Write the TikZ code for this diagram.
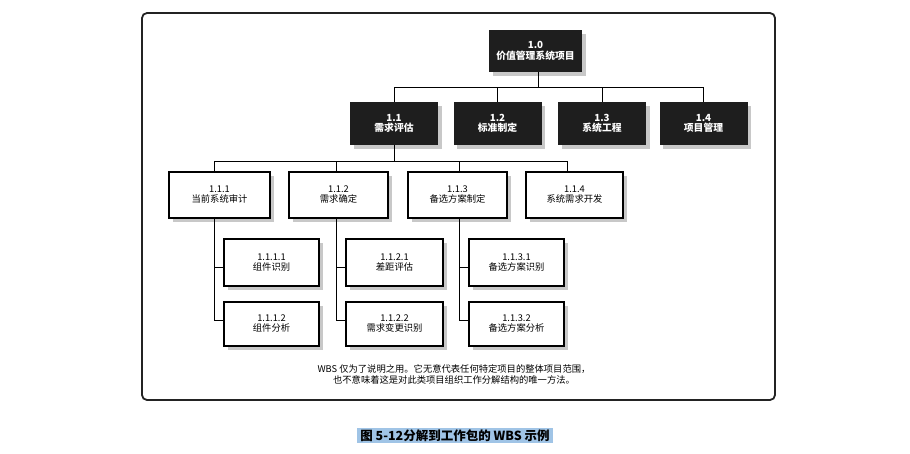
\documentclass[tikz,border=0pt]{standalone}
\usepackage{fontspec}
\setmainfont{Noto Sans CJK SC}
\usetikzlibrary{shadows}
\definecolor{boxblack}{RGB}{30,30,30}
\definecolor{shadowgray}{RGB}{200,200,200}
\definecolor{framecol}{RGB}{35,35,35}
\definecolor{hl}{RGB}{160,196,230}
\tikzset{
  shd/.style={drop shadow={shadow xshift=3.5pt, shadow yshift=-3.5pt, fill=shadowgray, opacity=1}},
  topbox/.style={shd, fill=boxblack, text=white, align=center, inner sep=0pt,
    font=\bfseries\fontsize{9.8}{10.5}\selectfont},
  wbox/.style={shd, draw=black, line width=1.3pt, fill=white, align=center, inner sep=0pt,
    font=\fontsize{9.3}{10}\selectfont},
  conn/.style={line width=1pt, black},
}
\begin{document}
\begin{tikzpicture}[x=1pt,y=-1pt]
\useasboundingbox (0,0) rectangle (910,453);
\draw[line width=1.8pt, rounded corners=5pt, framecol] (142,13) rectangle (775,400);

% level 0 and 1
\node[topbox, minimum width=93pt, minimum height=42pt] (n10) at (535.5,51) {1.0\\价值管理系统项目};
\node[topbox, minimum width=88pt, minimum height=43pt] (n11) at (394,123.5) {1.1\\需求评估};
\node[topbox, minimum width=88pt, minimum height=43pt] (n12) at (497.5,123.5) {1.2\\标准制定};
\node[topbox, minimum width=88pt, minimum height=43pt] (n13) at (602,123.5) {1.3\\系统工程};
\node[topbox, minimum width=88pt, minimum height=43pt] (n14) at (703.5,123.5) {1.4\\项目管理};

% level 2
\node[wbox, minimum width=101pt, minimum height=46pt] (n111) at (219.5,195) {1.1.1\\当前系统审计};
\node[wbox, minimum width=99pt, minimum height=46pt] (n112) at (338.5,195) {1.1.2\\需求确定};
\node[wbox, minimum width=99pt, minimum height=46pt] (n113) at (457.5,195) {1.1.3\\备选方案制定};
\node[wbox, minimum width=97pt, minimum height=46pt] (n114) at (574.5,195) {1.1.4\\系统需求开发};

% level 3
\node[wbox, minimum width=95pt, minimum height=47pt] (n1111) at (271.5,262.5) {1.1.1.1\\组件识别};
\node[wbox, minimum width=95pt, minimum height=44pt] (n1112) at (271.5,324) {1.1.1.2\\组件分析};
\node[wbox, minimum width=97pt, minimum height=47pt] (n1121) at (394.5,262.5) {1.1.2.1\\差距评估};
\node[wbox, minimum width=97pt, minimum height=44pt] (n1122) at (394.5,324) {1.1.2.2\\需求变更识别};
\node[wbox, minimum width=95pt, minimum height=47pt] (n1131) at (516.5,262.5) {1.1.3.1\\备选方案识别};
\node[wbox, minimum width=95pt, minimum height=44pt] (n1132) at (516.5,324) {1.1.3.2\\备选方案分析};

% connectors level 0-1
\coordinate (h1) at (0,87);
\draw[conn] ([xshift=3pt]n10.south) -- ([xshift=3pt]n10.south |- h1);
\draw[conn] (n11.north) -- (n11.north |- h1) -| (n14.north);
\draw[conn] (n12.north) -- (n12.north |- h1);
\draw[conn] (n13.north) -- (n13.north |- h1);

% connectors level 1-2
\coordinate (b1) at (214,161);
\coordinate (b2) at (336,161);
\coordinate (b3) at (459,161);
\coordinate (b4) at (567,161);
\draw[conn] (n11.south) -- (n11.south |- b1);
\draw[conn] (b1) -- (b4);
\draw[conn] (b1) -- (b1 |- n111.north);
\draw[conn] (b2) -- (b2 |- n112.north);
\draw[conn] (b3) -- (b3 |- n113.north);
\draw[conn] (b4) -- (b4 |- n114.north);

% connectors level 2-3
\draw[conn] (b1 |- n111.south) |- ([yshift=-4.5pt]n1111.west);
\draw[conn] (b1 |- n111.south) |- ([yshift=4pt]n1112.west);
\draw[conn] (b2 |- n112.south) |- ([yshift=-4.5pt]n1121.west);
\draw[conn] (b2 |- n112.south) |- ([yshift=4pt]n1122.west);
\draw[conn] (b3 |- n113.south) |- ([yshift=-4.5pt]n1131.west);
\draw[conn] (b3 |- n113.south) |- ([yshift=4pt]n1132.west);

% note and caption
\node[align=center, font=\fontsize{9.3}{11.5}\selectfont] (note) at (454,374.5)
  {WBS 仅为了说明之用。它无意代表任何特定项目的整体项目范围，\\也不意味着这是对此类项目组织工作分解结构的唯一方法。};
\node[fill=hl, inner sep=0pt, minimum width=196pt, minimum height=15pt,
  font=\bfseries\fontsize{12.5}{14}\selectfont] (cap) at (455,435.5) {图 5-12分解到工作包的 WBS 示例};
\end{tikzpicture}
\end{document}
